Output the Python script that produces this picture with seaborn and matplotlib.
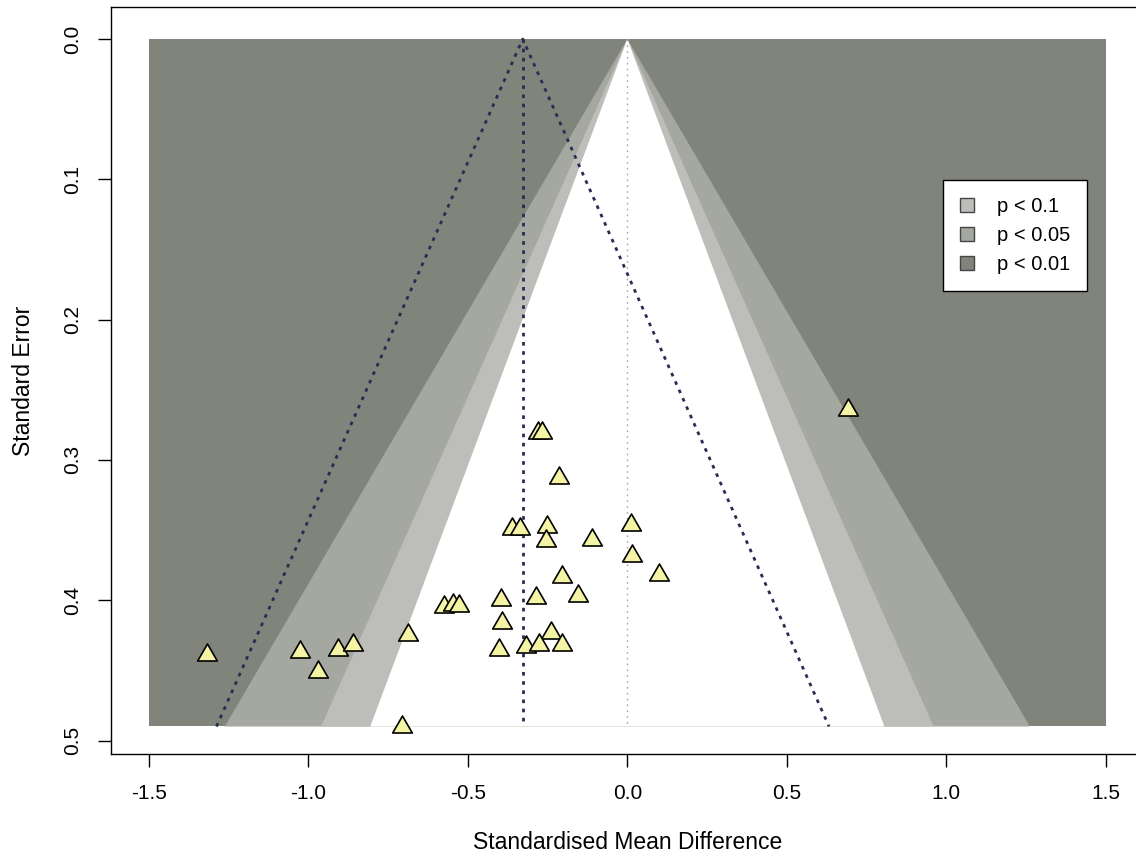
import matplotlib
matplotlib.use("Agg")
import matplotlib.pyplot as plt
import seaborn as sns
import pandas as pd
from matplotlib.patches import Patch
from matplotlib.path import Path

# effect sizes (SMD) and their standard errors
smd = [-1.318, -1.027, -0.970, -0.907, -0.860, -0.688, -0.707, -0.575,
       -0.547, -0.528, -0.281, -0.268, -0.215, -0.362, -0.337, -0.252,
       -0.255, -0.111, 0.011, 0.014, 0.099, -0.206, -0.155, -0.287,
       -0.397, -0.393, -0.240, -0.403, -0.318, -0.277, -0.206, 0.691]
se = [0.437, 0.435, 0.449, 0.433, 0.430, 0.423, 0.488, 0.403,
      0.401, 0.402, 0.279, 0.279, 0.311, 0.347, 0.347, 0.346,
      0.356, 0.355, 0.344, 0.366, 0.380, 0.381, 0.395, 0.396,
      0.398, 0.414, 0.421, 0.433, 0.431, 0.430, 0.430, 0.262]

pooled = -0.328          # summary estimate
se_max = 0.49            # bottom of the funnel
x_extent = 1.5           # shaded range on x
contour_labels = ["p < 0.1", "p < 0.05", "p < 0.01"]
contour_z = [1.645, 1.96, 2.576]
contour_cols = ["#BDBEB9", "#A5A7A1", "#81847A"]

df = pd.DataFrame({"smd": smd, "se": se})

sns.set_style("white")
plt.rcParams["font.family"] = ["Liberation Sans", "DejaVu Sans"]
plt.rcParams["text.color"] = "black"
plt.rcParams["axes.labelcolor"] = "black"
plt.rcParams["xtick.color"] = "black"
plt.rcParams["ytick.color"] = "black"

fig = plt.figure(figsize=(11.36, 8.52), dpi=100)
ax = fig.add_axes([110.7 / 1136, 1 - 754 / 852, (1144 - 110.7) / 1136, 747 / 852])

# contour shading: outer rectangle, then narrower funnels on top
ax.fill([-x_extent, x_extent, x_extent, -x_extent], [0, 0, se_max, se_max],
        color=contour_cols[2], lw=0, zorder=1)
for z, col in [(contour_z[2], contour_cols[1]), (contour_z[1], contour_cols[0]),
               (contour_z[0], "white")]:
    ax.fill([0, -z * se_max, z * se_max], [0, se_max, se_max], color=col, lw=0, zorder=2)

# reference line at zero
ax.plot([0, 0], [0, se_max], color="#A8A8A8", lw=1.0, ls=(0, (1.2, 3)), zorder=3)

# pooled estimate and pseudo 95% limits
navy = "#2A2B50"
ax.plot([pooled, pooled], [0, se_max], color=navy, lw=2.0, ls=(0, (1.3, 2.0)), zorder=3)
ax.plot([pooled - contour_z[1] * se_max, pooled, pooled + contour_z[1] * se_max],
        [se_max, 0, se_max], color=navy, lw=2.0, ls=(0, (1.3, 2.0)), zorder=3)

# equilateral triangle marker (closed so the outline is complete)
tri = Path([(-1, -0.866), (1, -0.866), (0, 0.866), (-1, -0.866)],
           [Path.MOVETO, Path.LINETO, Path.LINETO, Path.CLOSEPOLY])
sns.scatterplot(data=df, x="smd", y="se", marker=tri, s=200, color="#F4F4A4",
                edgecolor="black", linewidth=1.2, ax=ax, zorder=5)

ax.set_xlim(-1.62, 1.62)
ax.set_ylim(0.5096, -0.0228)
ax.set_xticks([-1.5, -1.0, -0.5, 0.0, 0.5, 1.0, 1.5])
ax.set_xticklabels(["-1.5", "-1.0", "-0.5", "0.0", "0.5", "1.0", "1.5"])
ax.set_yticks([0.0, 0.1, 0.2, 0.3, 0.4, 0.5])
ax.set_yticklabels(["0.0", "0.1", "0.2", "0.3", "0.4", "0.5"])
ax.tick_params(axis="both", direction="out", length=9.5, width=1.0, color="black",
               labelcolor="black", labelsize=15, pad=12, left=True, bottom=True)
ax.tick_params(axis="y", labelrotation=90, pad=11)
plt.setp(ax.get_yticklabels(), va="center")

for sp in ax.spines.values():
    sp.set_color("black")
    sp.set_linewidth(1.0)

ax.set_xlabel("Standardised Mean Difference", fontsize=16.5, labelpad=20, color="black")
ax.set_ylabel("Standard Error", fontsize=16.5, labelpad=20, color="black")

handles = [Patch(facecolor=c, edgecolor="#444444", lw=1.0) for c in contour_cols]
leg = ax.legend(handles, contour_labels, loc="upper right",
                bbox_to_anchor=(1087 / 1136, 1 - 180 / 852), bbox_transform=fig.transFigure,
                fontsize=14.5, frameon=True, fancybox=False, edgecolor="black",
                framealpha=1, handlelength=0.7, handleheight=0.7, handletextpad=1.1,
                labelspacing=0.5, borderpad=0.85, borderaxespad=0)
leg.get_frame().set_linewidth(1.0)
for t in leg.get_texts():
    t.set_color("black")

fig.savefig("out.png", dpi=100)
